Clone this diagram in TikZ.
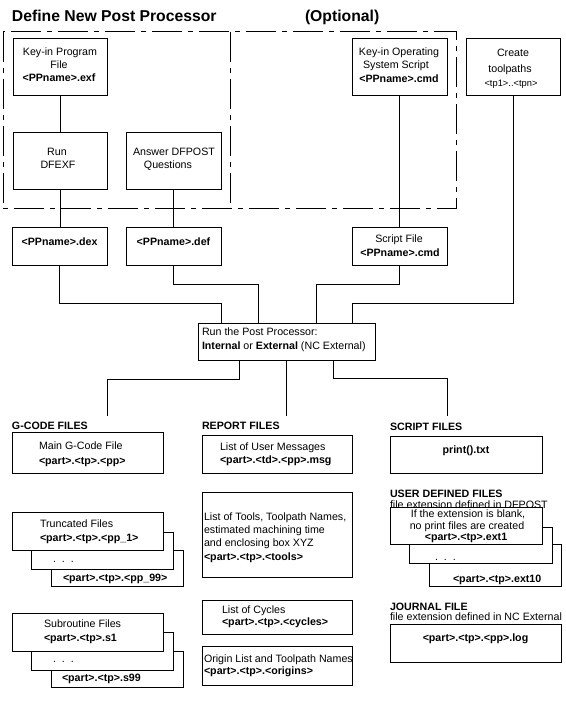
\documentclass[tikz,border=0pt]{standalone}
\usepackage{fontspec}
\setmainfont{Liberation Sans}
\usetikzlibrary{fit}
\newcommand\fs{\fontsize{8}{9.75}\selectfont}
\begin{document}
\begin{tikzpicture}[x=0.75pt,y=-0.75pt,
  every node/.style={inner sep=0pt, outer sep=0pt},
  box/.style={draw, line width=0.75pt, fill=white, font=\fs, align=center},
  conn/.style={line width=0.75pt},
  lbl/.style={anchor=west, font=\fs, text height=5.9pt, text depth=0pt},
  lblb/.style={lbl, font=\fs\bfseries},
  lblc/.style={lbl, anchor=center},
  ttl/.style={anchor=west, font=\fontsize{11.8}{14}\selectfont\bfseries, text height=8.5pt, text depth=0pt},
  frame/.style={line width=0.75pt, dash pattern=on 22.5pt off 4.5pt on 3.75pt off 4.5pt}
]
\useasboundingbox (0,0) rectangle (566,702);
\fill[white] (0,0) rectangle (566,702);

% title
\node[ttl] (title) at (12,16) {Define New Post Processor};
\node[ttl] (opt) at (305,16) {(Optional)};

% optional frame
\draw[frame] (3,32) rectangle (456,209);
\draw[frame] (230,32) -- (230,209);

% top boxes
\node[box, fit={(13,39) (107,96)}] (kp) {};
\node[lblc] (kpa) at (60,52) {Key-in Program};
\node[lblc] (kpb) at (59,65) {File};
\node[lblc, font=\fs\bfseries] (kpc) at (59,78) {<PPname>.exf};
\node[box, fit={(13,133) (107,190)}] (run) {};
\node[lblc] (runa) at (57,152) {Run};
\node[lblc] (runb) at (58,165) {DFEXF};
\node[box, fit={(126,133) (221,190)}] (ans) {};
\node[lblc] (ansa) at (174,152) {Answer DFPOST};
\node[lblc] (ansb) at (168,165) {Questions};
\node[box, fit={(352,39) (447,96)}] (kos) {};
\node[lblc] (kosa) at (399,52) {Key-in Operating};
\node[lblc] (kosb) at (396,65) {System Script};
\node[lblc, font=\fs\bfseries] (kosc) at (399,79) {<PPname>.cmd};
\node[box, fit={(466,39) (560,96)}] (tp) {};
\node[lblc] (tpa) at (513,53) {Create};
\node[lblc] (tpb) at (510,69) {toolpaths};
\node[lblc, font=\fontsize{7}{8}\selectfont] (tpc) at (511,83) {<tp1>..<tpn>};

\node[box, fit={(12,227) (107,265)}] (dex) {\textbf{<PPname>.dex}};
\node[box, fit={(126,227) (221,265)}] (def) {\textbf{<PPname>.def}};
\node[box, fit={(352,227) (447,265)}] (scr) {};
\node[lblc] (scra) at (399,239) {Script File};
\node[lblc, font=\fs\bfseries] (scrb) at (400,253) {<PPname>.cmd};

\node[box, fit={(198,323) (375,360)}] (rp) {};
\node[lbl] (rpt1) at (202,332) {Run the Post Processor:};
\node[lbl] (rpt2) at (202,346) {\textbf{Internal} or \textbf{External} (NC External)};

% top connectors
\draw[conn] (kp.south) -- (kp.south |- run.north);
\draw[conn] (run.south) -- (run.south |- dex.north);
\draw[conn] (ans.south) -- (ans.south |- def.north);
\draw[conn] (kos.south) -- (kos.south |- scr.north);
\draw[conn] (dex.south) -- ++(0,38) -| (rp.north -| 221,0);
\draw[conn] (def.south) -- ++(0,19) -| (rp.north -| 258,0);
\draw[conn] (scr.south) -- ++(0,19) -| (rp.north -| 316,0);
\draw[conn] (tp.south) -- ++(0,207) -| (rp.north -| 352,0);

% bottom connectors
\coordinate (gend) at (107,416);
\coordinate (rend) at (286,416);
\coordinate (send) at (447,416);
\draw[conn] (rp.south -| 239,0) -- ++(0,19) -| (gend);
\draw[conn] (rp.south -| 286,0) -- (rend);
\draw[conn] (rp.south -| 333,0) -- ++(0,18) -| (send);

% G-code files
\node[lblb] (gh) at (12,426) {G-CODE FILES};
\node[box, fit={(12,432) (163,473)}] (main) {};
\node[lbl] (mt1) at (39,446) {Main G-Code File};
\node[lblb] (mt2) at (39,461) {<part>.<tp>.<pp>};

\node[box, fit={(51,550) (183,586)}] (tr3) {};
\node[box, fit={(31,532) (173,569)}] (tr2) {};
\node[box, fit={(12,512) (163,550)}] (tr1) {};
\node[lbl] (tr1a) at (40,524) {Truncated Files};
\node[lblb] (tr1b) at (40,538) {<part>.<tp>.<pp\_1>};
\node[lbl] (tr2a) at (53,559) {.\hspace{4.5pt}.\hspace{4.5pt}.};
\node[lblb] (tr3a) at (63,578) {<part>.<tp>.<pp\_99>};

\node[box, fit={(51,651) (183,687)}] (sr3) {};
\node[box, fit={(31,632) (173,670)}] (sr2) {};
\node[box, fit={(12,613) (163,651)}] (sr1) {};
\node[lbl] (sr1a) at (44,624) {Subroutine Files};
\node[lblb] (sr1b) at (44,638) {<part>.<tp>.s1};
\node[lbl] (sr2a) at (53,658.5) {.\hspace{4.5pt}.\hspace{4.5pt}.};
\node[lblb] (sr3a) at (62,678) {<part>.<tp>.s99};

% report files
\node[lblb] (rh) at (202,426) {REPORT FILES};
\node[box, fit={(202,435) (352,473)}] (msg) {};
\node[lbl] (msga) at (220,447) {List of User Messages};
\node[lblb] (msgb) at (220,460) {<part>.<td>.<pp>.msg};

\node[box, fit={(202,492) (352,577)}] (tools) {};
\node[lbl] (toa) at (204,517) {List of Tools, Toolpath Names,};
\node[lbl] (tob) at (204,530) {estimated machining time};
\node[lbl] (toc) at (204,543) {and enclosing box XYZ};
\node[lblb] (tod) at (204,557) {<part>.<tp>.<tools>};

\node[box, fit={(202,600) (352,634)}] (cyc) {};
\node[lbl] (cya) at (222,610) {List of Cycles};
\node[lblb] (cyb) at (222,622) {<part>.<tp>.<cycles>};

\node[box, fit={(202,646) (352,685)}] (ori) {};
\node[lbl] (ora) at (204,659) {Origin List and Toolpath Names};
\node[lblb] (orb) at (204,671) {<part>.<tp>.<origins>};

% script files
\node[lblb] (sh) at (390,427) {SCRIPT FILES};
\node[box, fit={(390,436) (542,473)}] (prt) {\textbf{print().txt}};

% user defined files
\node[lblb] (uh) at (390,494) {USER DEFINED FILES};
\node[lbl] (uh2) at (390,504.5) {file extension defined in DFPOST};
\node[box, fit={(429,544) (561,586)}] (ud3) {};
\node[box, fit={(409,527) (552,563)}] (ud2) {};
\node[box, fit={(390,507) (542,544)}] (ud1) {};
\node[lblc] (ud1a) at (468,514) {If the extension is blank,};
\node[lblc] (ud1b) at (467,526) {no print files are created};
\node[lblc, font=\fs\bfseries] (ud1c) at (466,536.5) {<part>.<tp>.ext1};
\node[lbl] (ud2a) at (435,557) {.\hspace{4.5pt}.\hspace{4.5pt}.};
\node[lblb] (ud3a) at (453,579) {<part>.<tp>.ext10};

% journal file
\node[lblb] (jh) at (390,606.5) {JOURNAL FILE};
\node[lbl] (jh2) at (390,617) {file extension defined in NC External};
\node[box, fit={(390,624) (561,662)}] (jou) {\textbf{<part>.<tp>.<pp>.log}};
\end{tikzpicture}
\end{document}
